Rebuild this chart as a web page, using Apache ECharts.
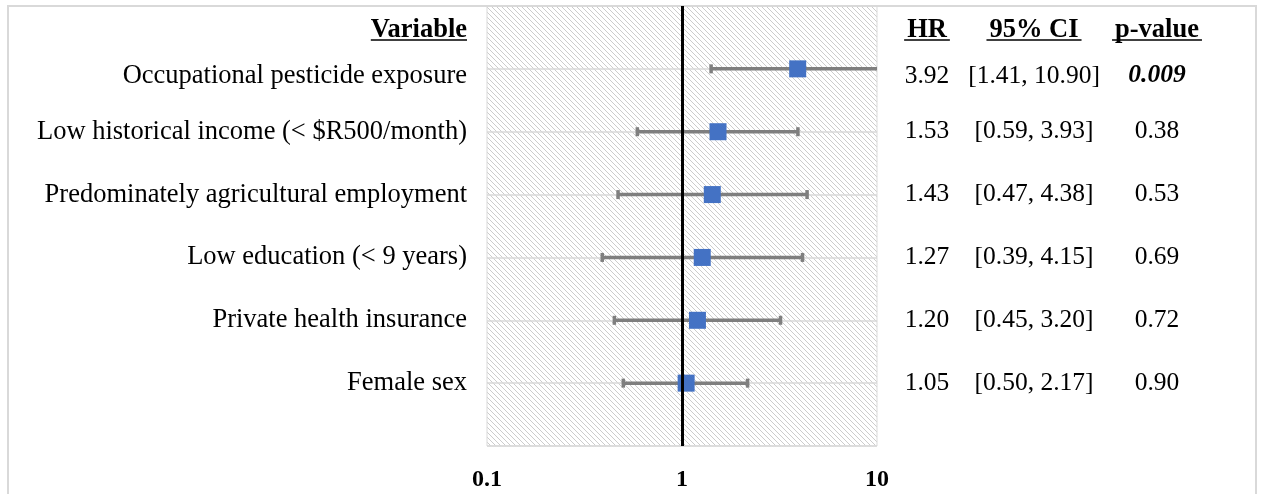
<!DOCTYPE html>
<html><head><meta charset="utf-8">
<script src="https://cdn.jsdelivr.net/npm/echarts@6/dist/echarts.min.js"></script>
<style>html,body{margin:0;padding:0;background:#fff}#c{width:1261px;height:494px}</style>
</head><body><div id="c"></div>
<script>
const variables = ['Occupational pesticide exposure','Low historical income (< $R500/month)','Predominately agricultural employment','Low education (< 9 years)','Private health insurance','Female sex'];
const hr = [3.92, 1.53, 1.43, 1.27, 1.20, 1.05];
const ciLow = [1.41, 0.59, 0.47, 0.39, 0.45, 0.50];
const ciHigh = [10.90, 3.93, 4.38, 4.15, 3.20, 2.17];
const pValues = ['0.009', '0.38', '0.53', '0.69', '0.72', '0.90'];
const xTicks = [0.1, 1, 10];
const variableHeader = 'Variable';
const tableHeaders = ['HR', '95% CI', 'p-value'];

const FONT = '"Liberation Serif", "Times New Roman", serif';
const FS_LABEL = 26.5, FS_TABLE = 25.5, FS_HEAD = 26.5;

// hatch pattern
const pc = document.createElement('canvas'); pc.width = 5; pc.height = 5;
const g = pc.getContext('2d'); g.strokeStyle = '#cccccc'; g.lineWidth = 1;
g.beginPath(); g.moveTo(-1,-1); g.lineTo(6,6); g.moveTo(-1,4); g.lineTo(1,6); g.moveTo(4,-1); g.lineTo(6,1); g.stroke();

const mc = document.createElement('canvas').getContext('2d');
function tw(t){ mc.font = 'bold ' + FS_HEAD + 'px ' + FONT; return mc.measureText(t).width; }

const rowIdx = v => { const i = Math.round(v) - 1; return (i >= 0 && i < variables.length) ? i : -1; };
// first row text sits slightly lower in the reference
const wrap = (i, s) => i === 0 ? '{first|' + s + '}' : s;

function tableAxis(margin, fmt, extraRich){
  const rich = Object.assign({first:{fontFamily:FONT, fontSize:FS_TABLE, color:'#000', padding:[14,0,0,0]}}, extraRich || {});
  return {type:'value', min:0, max:7, interval:1, inverse:true, position:'right',
    axisLine:{show:false}, axisTick:{show:false}, splitLine:{show:false},
    axisLabel:{margin:margin, align:'center', fontFamily:FONT, fontSize:FS_TABLE, color:'#000', formatter:fmt, rich:rich}};
}

const colX = [927, 1034, 1157];
const headerY = 30, ulY = 40;
const graphic = [
  {type:'rect', z:-10, shape:{x:8, y:6, width:1248, height:600}, style:{fill:'none', stroke:'#d9d9d9', lineWidth:2}},
  {type:'text', style:{text:variableHeader, x:467, y:headerY, align:'right', verticalAlign:'middle', font:'bold '+FS_HEAD+'px '+FONT, fill:'#000'}},
  {type:'line', shape:{x1:467 - tw(variableHeader), y1:ulY, x2:467, y2:ulY}, style:{stroke:'#000', lineWidth:1.5}}
];
tableHeaders.forEach((h,i)=>{
  const w = tw(h);
  graphic.push({type:'text', style:{text:h, x:colX[i], y:headerY, align:'center', verticalAlign:'middle', font:'bold '+FS_HEAD+'px '+FONT, fill:'#000'}});
  graphic.push({type:'line', shape:{x1:colX[i]-w/2-3, y1:ulY, x2:colX[i]+w/2+3, y2:ulY}, style:{stroke:'#000', lineWidth:1.5}});
});

const chart = echarts.init(document.getElementById('c'), null, {renderer:'canvas'});
chart.setOption({
  animation:false,
  backgroundColor:'#fff',
  grid:{left:487, right:384, top:6, bottom:48, show:true, borderColor:'#d9d9d9', borderWidth:1,
        backgroundColor:{image:pc, repeat:'repeat'}},
  graphic: graphic,
  xAxis:{type:'log', logBase:10, min:0.1, max:10,
    axisLine:{show:false}, axisTick:{show:false}, splitLine:{show:false},
    axisLabel:{margin:22, fontFamily:FONT, fontWeight:'bold', fontSize:24, color:'#000',
      formatter: v => { const t = xTicks.find(t => Math.abs(t - v) / t < 1e-6); return t === undefined ? '' : String(t); }}},
  yAxis:[
    {type:'value', min:0, max:7, interval:1, inverse:true, position:'left',
      axisLine:{show:false}, axisTick:{show:false},
      splitLine:{show:true, lineStyle:{color:'#d9d9d9', width:1.5}},
      axisLabel:{margin:20, fontFamily:FONT, fontSize:FS_LABEL, color:'#000',
        rich:{first:{fontFamily:FONT, fontSize:FS_LABEL, color:'#000', padding:[14,0,0,0]}},
        formatter: v => { const i = rowIdx(v); return i < 0 ? '' : wrap(i, variables[i]); }}},
    tableAxis(colX[0]-877, v => { const i = rowIdx(v); return i < 0 ? '' : wrap(i, hr[i].toFixed(2)); }),
    tableAxis(colX[1]-877, v => { const i = rowIdx(v); return i < 0 ? '' : wrap(i, '[' + ciLow[i].toFixed(2) + ', ' + ciHigh[i].toFixed(2) + ']'); }),
    tableAxis(colX[2]-877, v => {
        const i = rowIdx(v); if (i < 0) return ''; const p = pValues[i];
        if (parseFloat(p) < 0.05) return i === 0 ? '{sigFirst|' + p + '}' : '{sig|' + p + '}';
        return wrap(i, p); },
      {sig:{fontFamily:FONT, fontSize:FS_TABLE, fontWeight:'bold', fontStyle:'italic', color:'#000'},
       sigFirst:{fontFamily:FONT, fontSize:FS_TABLE, fontWeight:'bold', fontStyle:'italic', color:'#000', padding:[14,0,0,0]}})
  ],
  series:[
    {type:'custom', xAxisIndex:0, yAxisIndex:0, z:2,
      data: variables.map((_, i) => [ciLow[i], ciHigh[i], i + 1]),
      encode:{x:[0,1], y:2},
      renderItem:(params, api) => {
        const y = api.value(2);
        const a = api.coord([api.value(0), y]);
        const b = api.coord([api.value(1), y]);
        const cs = params.coordSys; const right = cs.x + cs.width, left = cs.x;
        const style = {stroke:'#7f7f7f', lineWidth:3.5};
        const h = 4.5;
        const x1 = Math.max(a[0], left), x2 = Math.min(b[0], right);
        const ch = [{type:'line', shape:{x1:x1, y1:a[1], x2:x2, y2:b[1]}, style:style}];
        if (a[0] >= left) ch.push({type:'line', shape:{x1:a[0], y1:a[1]-h, x2:a[0], y2:a[1]+h}, style:style});
        if (b[0] <= right) ch.push({type:'line', shape:{x1:b[0], y1:b[1]-h, x2:b[0], y2:b[1]+h}, style:style});
        return {type:'group', children:ch};
      }},
    {type:'scatter', xAxisIndex:0, yAxisIndex:0, z:3, symbol:'rect', symbolSize:17,
      itemStyle:{color:'#4472C4', opacity:1},
      data: hr.map((v, i) => [v, i + 1]),
      markLine:{silent:true, symbol:['none','none'], label:{show:false},
        lineStyle:{color:'#000', width:3, type:'solid'}, data:[{xAxis:1}]}}
  ]
});
</script></body></html>
